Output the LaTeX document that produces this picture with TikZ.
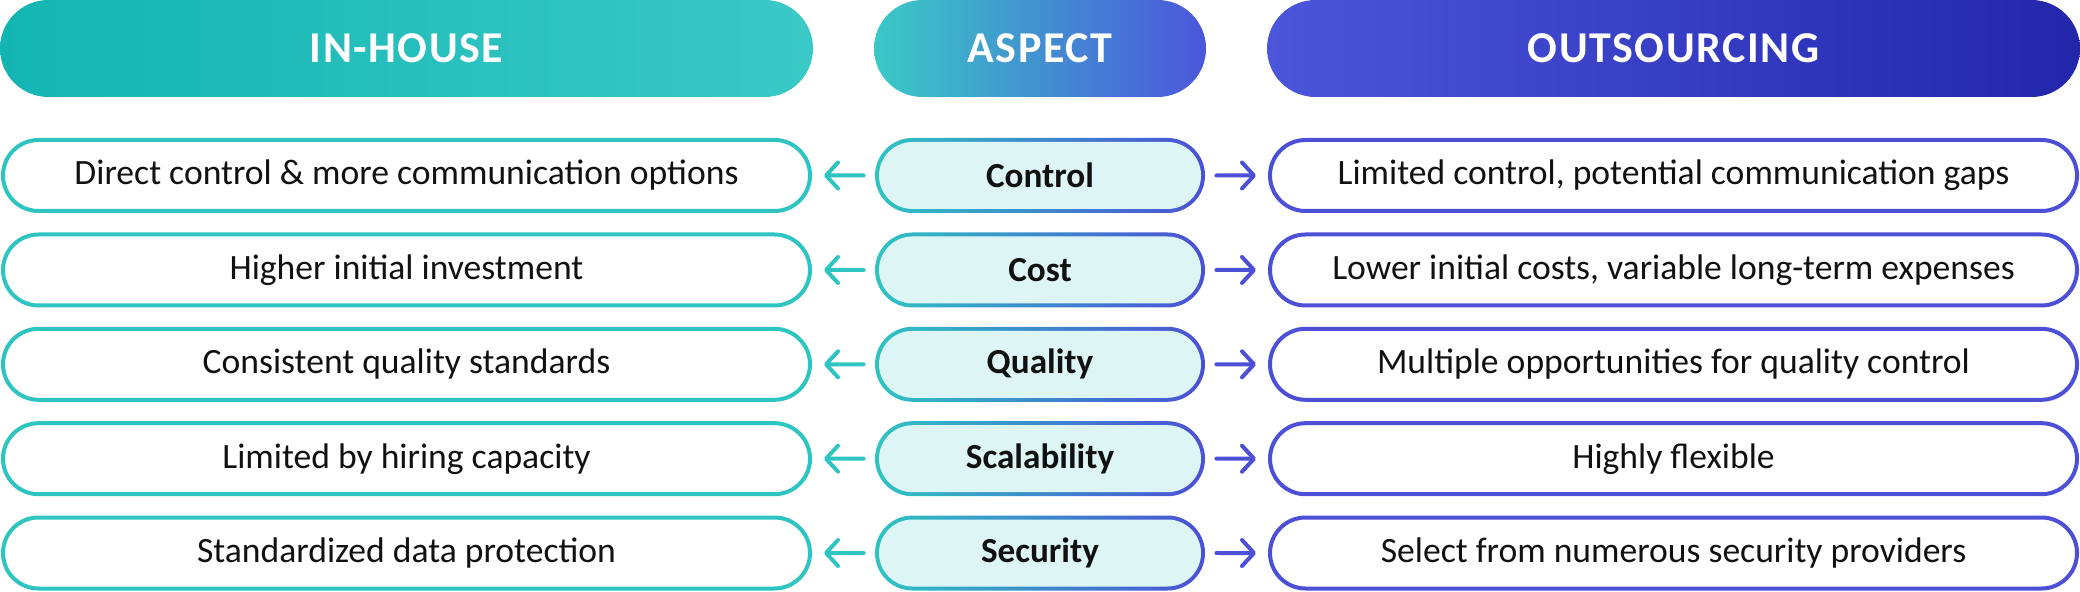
\documentclass[tikz,border=0pt]{standalone}
\usepackage{fontspec}
\setmainfont{Carlito}
\newfontfamily\hdrfont[LetterSpace=3.5]{Carlito}
\usetikzlibrary{shapes.misc,arrows.meta}
\definecolor{tealA}{HTML}{13B5B2}
\definecolor{tealH}{HTML}{3AC9C6}
\definecolor{tealB}{HTML}{2EC4C2}
\definecolor{blueA}{HTML}{4B56DB}
\definecolor{blueD}{HTML}{2226AB}
\definecolor{blueB}{HTML}{4B50D6}
\definecolor{lightc}{HTML}{DDF5F5}
\definecolor{txt}{HTML}{111111}
\tikzset{
  hdr/.style={rounded rectangle, minimum height=48.5pt, inner sep=0pt, text=white,
    font=\hdrfont\bfseries\fontsize{22}{26}\selectfont},
  sidebox/.style={rounded rectangle, line width=2pt, fill=white, minimum width=403.5pt,
    minimum height=35.5pt, inner sep=0pt, text=txt, font=\fontsize{17.8}{21}\selectfont},
  lbox/.style={sidebox, draw=tealB},
  rbox/.style={sidebox, draw=blueB},
  cout/.style={rounded rectangle, minimum width=165pt, minimum height=37.5pt, inner sep=0pt,
    left color=tealB, right color=blueB},
  cin/.style={rounded rectangle, minimum width=161pt, minimum height=33.5pt, inner sep=0pt,
    fill=lightc, text=txt, font=\bfseries\fontsize{17.6}{21}\selectfont},
  arr/.style={line width=2pt, line cap=round, shorten <=5.5pt, shorten >=6pt,
    -{Straight Barb[length=6pt,width=13pt,round]}},
  arrT/.style={arr, draw=tealB},
  arrB/.style={arr, draw=blueB},
}
\begin{document}
\begin{tikzpicture}[x=0.5pt,y=-0.5pt]
\useasboundingbox (0,0) rectangle (2080,592);
\node[hdr, minimum width=406.5pt, left color=tealA, right color=tealH] (hin) at (406.5,48.5) {IN-HOUSE};
\node[hdr, minimum width=166pt, left color=tealH, right color=blueA] (hasp) at (1040,48.5) {ASPECT};
\node[hdr, minimum width=406.5pt, left color=blueA, right color=blueD] (hout) at (1673.5,48.5) {OUTSOURCING};
\foreach \i/\y/\lt/\ct/\rt in {
  1/175.5/{Direct control \& more communication options}/Control/{Limited control, potential communication gaps},
  2/270/{Higher initial investment}/Cost/{Lower initial costs, variable long-term expenses},
  3/364.3/{Consistent quality standards}/Quality/{Multiple opportunities for quality control},
  4/458.7/{Limited by hiring capacity}/Scalability/{Highly flexible},
  5/553/{Standardized data protection}/Security/{Select from numerous security providers}}{
  \node[lbox] (l\i) at (406.5,\y) {\lt};
  \node[rbox] (r\i) at (1673.5,\y) {\rt};
  \node[cout] (c\i) at (1040,\y) {};
  \node[cin] (ct\i) at (c\i) {\ct};
  \draw[arrT] (c\i) -- (l\i);
  \draw[arrB] (c\i) -- (r\i);
}
\end{tikzpicture}
\end{document}
